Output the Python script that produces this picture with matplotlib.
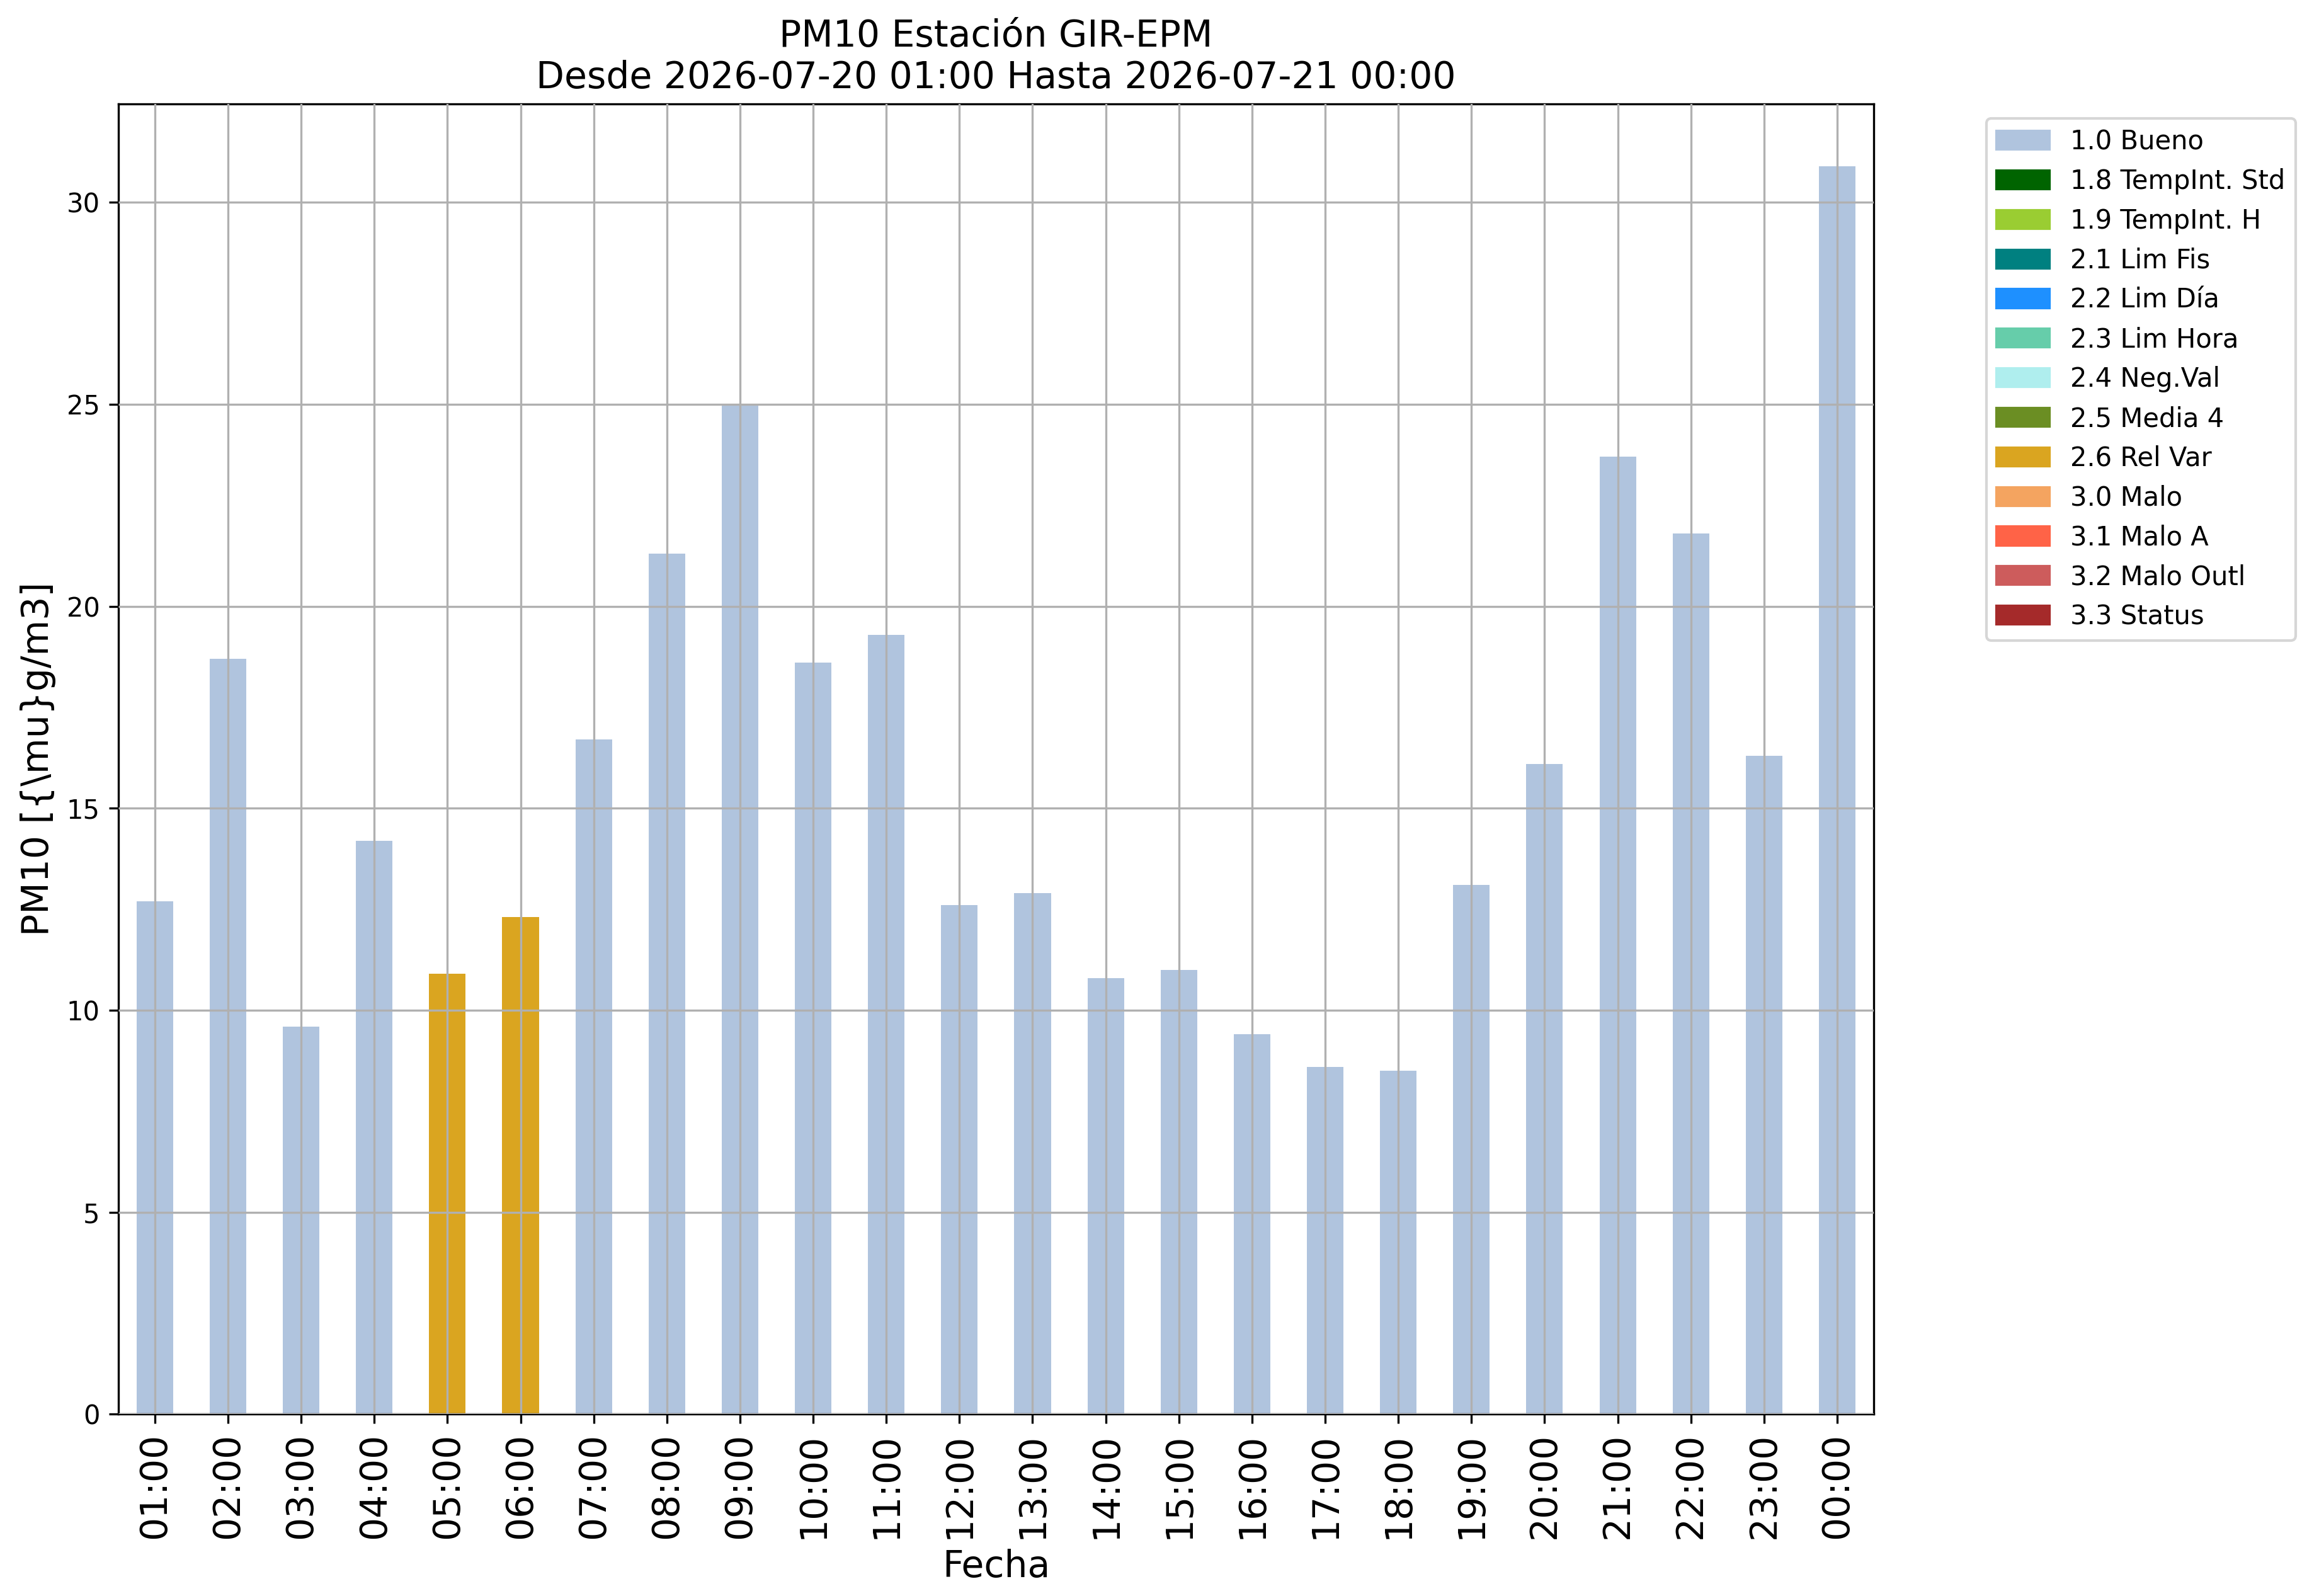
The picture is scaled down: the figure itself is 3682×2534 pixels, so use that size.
import matplotlib
matplotlib.use("Agg")
import matplotlib.pyplot as plt
from matplotlib.patches import Patch

# hourly PM10 values and their quality flag
hours = ["01:00", "02:00", "03:00", "04:00", "05:00", "06:00", "07:00", "08:00",
         "09:00", "10:00", "11:00", "12:00", "13:00", "14:00", "15:00", "16:00",
         "17:00", "18:00", "19:00", "20:00", "21:00", "22:00", "23:00", "00:00"]
pm10 = [12.7, 18.7, 9.6, 14.2, 10.9, 12.3, 16.7, 21.3, 25.0, 18.6, 19.3, 12.6,
        12.9, 10.8, 11.0, 9.4, 8.6, 8.5, 13.1, 16.1, 23.7, 21.8, 16.3, 30.9]
flags = ["1.0", "1.0", "1.0", "1.0", "2.6", "2.6", "1.0", "1.0", "1.0", "1.0",
         "1.0", "1.0", "1.0", "1.0", "1.0", "1.0", "1.0", "1.0", "1.0", "1.0",
         "1.0", "1.0", "1.0", "1.0"]

flag_names = ["1.0 Bueno", "1.8 TempInt. Std", "1.9 TempInt. H", "2.1 Lim Fis",
              "2.2 Lim Día", "2.3 Lim Hora", "2.4 Neg.Val", "2.5 Media 4",
              "2.6 Rel Var", "3.0 Malo", "3.1 Malo A", "3.2 Malo Outl", "3.3 Status"]
flag_colors = ["lightsteelblue", "darkgreen", "yellowgreen", "teal", "dodgerblue",
               "mediumaquamarine", "paleturquoise", "olivedrab", "goldenrod",
               "sandybrown", "tomato", "indianred", "brown"]

color_of = {n.split()[0]: c for n, c in zip(flag_names, flag_colors)}
bar_colors = [color_of[f] for f in flags]

fig = plt.figure(figsize=(3682 / 300, 2534 / 300), dpi=300)
ax = fig.add_axes([0.051, 0.114, 0.757, 0.821])

x = list(range(len(hours)))
ax.bar(x, pm10, width=0.5, color=bar_colors)
ax.set_xlim(-0.5, len(hours) - 0.5)
ax.set_xticks(x)
ax.set_xticklabels(hours, rotation=90, fontsize=14)
ax.tick_params(axis="y", labelsize=10)
ax.grid(True)
ax.set_axisbelow(False)

ax.set_title("PM10 Estación GIR-EPM\nDesde 2026-07-20 01:00 Hasta 2026-07-21 00:00",
             fontsize=14)
ax.set_xlabel("Fecha", fontsize=14)
ax.set_ylabel(r"PM10 [{\mu}g/m3]", fontsize=14)

handles = [Patch(color=c, label=n) for n, c in zip(flag_names, flag_colors)]
ax.legend(handles=handles, loc="upper left", bbox_to_anchor=(0.8565, 0.926),
          bbox_transform=fig.transFigure, borderaxespad=0, fontsize=10)

fig.savefig("out.png", dpi=300)
